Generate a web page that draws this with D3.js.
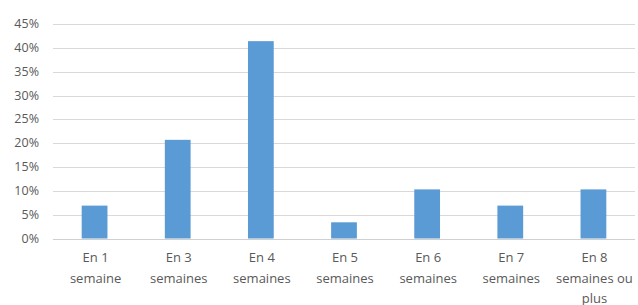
<!DOCTYPE html>
<html>
<head>
<meta charset="utf-8">
<script src="https://cdn.jsdelivr.net/npm/d3@7"></script>
<style>
  body { margin: 0; background: #fff; }
  text { font-family: "Open Sans", "Noto Sans", sans-serif; fill: #595959; }
</style>
</head>
<body>
<div id="chart"></div>
<script>
// categories (each label split into its displayed lines)
var categories = ["En 1 semaine", "En 3 semaines", "En 4 semaines", "En 5 semaines",
                  "En 6 semaines", "En 7 semaines", "En 8 semaines ou plus"];
var categoryLines = [
    ["En 1", "semaine"],
    ["En 3", "semaines"],
    ["En 4", "semaines"],
    ["En 5", "semaines"],
    ["En 6", "semaines"],
    ["En 7", "semaines"],
    ["En 8", "semaines ou", "plus"]
];
var values = [0.069, 0.207, 0.414, 0.034, 0.103, 0.069, 0.103];
var yTicks = [0, 0.05, 0.10, 0.15, 0.20, 0.25, 0.30, 0.35, 0.40, 0.45];

var width = 638;
var height = 305;
var margin = { top: 24, right: 3, bottom: 67, left: 53 };

var svg = d3.select("#chart")
    .append("svg")
    .attr("width", width)
    .attr("height", height);

var x = d3.scaleBand()
    .domain(categories)
    .range([margin.left, width - margin.right])
    .paddingInner(0.69)
    .paddingOuter(0.345);

var y = d3.scaleLinear()
    .domain([0, 0.45])
    .range([height - margin.bottom + 0.5, margin.top]);

// gridlines
svg.append("g")
    .selectAll("line")
    .data(yTicks)
    .enter().append("line")
    .attr("x1", margin.left)
    .attr("x2", width - margin.right)
    .attr("y1", d => Math.round(y(d)) + 0.5)
    .attr("y2", d => Math.round(y(d)) + 0.5)
    .attr("stroke", d => d == 0 ? "#d0d0d0" : "#d9d9d9")
    .attr("stroke-width", 1);

// y tick labels
svg.append("g")
    .selectAll("text")
    .data(yTicks)
    .enter().append("text")
    .attr("x", 39)
    .attr("y", d => Math.round(y(d)))
    .attr("dy", "0.35em")
    .attr("text-anchor", "end")
    .style("font-size", "12.5px")
    .text(d => d3.format(".0%")(d));

// bars
svg.append("g")
    .selectAll("rect")
    .data(values)
    .enter().append("rect")
    .attr("x", (d, i) => x(categories[i]))
    .attr("width", x.bandwidth())
    .attr("y", d => y(d))
    .attr("height", d => y(0) - y(d))
    .attr("fill", "#5b9bd5");

// x labels
var labels = svg.append("g")
    .selectAll("text")
    .data(categoryLines)
    .enter().append("text")
    .attr("text-anchor", "middle")
    .style("font-size", "13px")
    .attr("transform", (d, i) => "translate(" + (x(categories[i]) + x.bandwidth() / 2 + 1) + ",0)");

labels.selectAll("tspan")
    .data(d => d)
    .enter().append("tspan")
    .attr("x", 0)
    .attr("y", (d, j) => 262 + j * 20.5)
    .text(d => d);
</script>
</body>
</html>
